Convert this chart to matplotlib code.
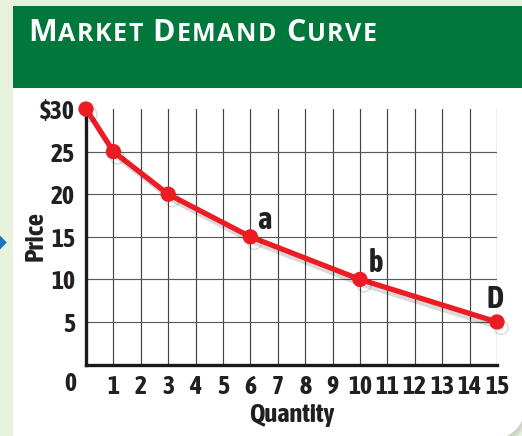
import matplotlib
matplotlib.use('Agg')
import matplotlib.pyplot as plt
import matplotlib.patheffects as pe
from matplotlib.path import Path
from matplotlib.patches import PathPatch, Polygon, Rectangle

# ---- data ----
quantity = [0, 1, 3, 6, 10, 15]
price = [30, 25, 20, 15, 10, 5]
x_ticks = list(range(1, 16))
x_labels = [str(v) for v in x_ticks]
y_ticks = [5, 10, 15, 20, 25, 30]
y_labels = ['5', '10', '15', '20', '25', '$30']
point_labels = ['a', 'b', 'D']
point_label_x = [6.5, 10.58, 14.93]
point_label_y = [15.9, 10.87, 6.64]
title = "Market Demand Curve"

W, H = 522, 436
fig = plt.figure(figsize=(W / 100, H / 100), dpi=100)
BG = '#e8f1dc'
fig.patch.set_facecolor(BG)

def fx(px):
    return px / W

def fy(py):
    return 1 - py / H

def P(px, py):
    return (fx(px), fy(py))

NARROW = ['Asap Condensed', 'Barlow Semi Condensed', 'DejaVu Sans']
TXT = '#231f20'
TICK_FS = 18.5

# ---- panel ----
r = 28
R, B = 524, 438
k = 0.5523
def panel_path(dx=0, dy=0):
    verts = [P(13 + dx, 6 + dy), P(R + dx, 6 + dy), P(R + dx, B - r + dy),
             P(R + dx, B - r + r * k + dy), P(R - r + r * k + dx, B + dy), P(R - r + dx, B + dy),
             P(13 + dx, B + dy), P(13 + dx, 6 + dy)]
    codes = [Path.MOVETO, Path.LINETO, Path.LINETO, Path.CURVE4, Path.CURVE4, Path.CURVE4,
             Path.LINETO, Path.CLOSEPOLY]
    return Path(verts, codes)

for i, a in enumerate([0.08, 0.08, 0.08]):
    fig.patches.append(PathPatch(panel_path(1 + i * 1.5, 1 + i * 1.5), transform=fig.transFigure,
                                 facecolor='#555555', edgecolor='none', alpha=a, zorder=0))
fig.patches.append(PathPatch(panel_path(), transform=fig.transFigure,
                             facecolor='white', edgecolor='none', zorder=1))
fig.patches.append(Rectangle(P(13, 88), fx(530) - fx(13), fy(6) - fy(88), transform=fig.transFigure,
                             facecolor='#00783c', edgecolor='none', zorder=2))
fig.patches.append(Polygon([P(0, 235.5), P(6.8, 242.5), P(0, 249.5), P(-7, 242.5)], closed=True,
                           transform=fig.transFigure, facecolor='#1b75bc', edgecolor='none', zorder=2))

# ---- title in small caps ----
renderer = fig.canvas.get_renderer()
x = 28.0
base = 40.7
track = 1.5
for word in title.split():
    for j, ch in enumerate(word):
        t = fig.text(fx(x), fy(base), ch.upper(), fontsize=22 if j == 0 else 18,
                     fontfamily='Open Sans', fontweight='bold', color='white',
                     ha='left', va='baseline', zorder=3)
        x += t.get_window_extent(renderer).width + track
    x += 8

# ---- axes ----
ax = fig.add_axes([fx(86), fy(364.6), fx(497) - fx(86), (364.6 - 109) / H])
ax.set_zorder(3)
ax.patch.set_alpha(0)
ax.set_xlim(0, 15)
ax.set_ylim(0, 30)

for xv in x_ticks:
    ax.axvline(xv, color='#444444', lw=0.85, zorder=1)
for yv in y_ticks[:-1]:
    ax.axhline(yv, color='#5a5a5a', lw=0.85, zorder=1)

for s in ['top', 'right']:
    ax.spines[s].set_visible(False)
for s in ['left', 'bottom']:
    ax.spines[s].set_linewidth(2.4)
    ax.spines[s].set_color('#1a1a1a')
    ax.spines[s].set_zorder(4)

ax.set_xticks(x_ticks)
ax.set_xticklabels(x_labels)
ax.set_yticks(y_ticks)
ax.set_yticklabels(y_labels)
ax.tick_params(length=0)
ax.tick_params(axis='x', pad=6.5)
ax.tick_params(axis='y', pad=8)
for lab in ax.get_xticklabels() + ax.get_yticklabels():
    lab.set_fontfamily(NARROW)
    lab.set_fontweight('bold')
    lab.set_fontsize(TICK_FS)
    lab.set_color(TXT)

ax.annotate('0', xy=(0, 0), xycoords='data', xytext=(-11.5, -4.8), textcoords='offset points',
            ha='center', va='top', fontfamily=NARROW, fontweight='bold', fontsize=TICK_FS, color=TXT,
            annotation_clip=False)

ax.plot(quantity, price, color='#ec1c24', lw=3.8, marker='o', ms=10, clip_on=False, zorder=5,
        solid_capstyle='round',
        path_effects=[pe.SimpleLineShadow(offset=(3, -4), shadow_color='#000000', alpha=0.15),
                      pe.Normal()])

for lab, lx, ly in zip(point_labels, point_label_x, point_label_y):
    ax.text(lx, ly, lab, ha='center', va='baseline', fontfamily=NARROW, fontweight='bold',
            fontsize=22, color=TXT, zorder=6)

fig.text(fx(35), fy(236), 'Price', rotation=90, ha='center', va='center', fontfamily=NARROW,
         fontweight='bold', fontsize=19.5, color=TXT, zorder=4)
fig.text(fx(292), fy(414), 'Quantity', ha='center', va='center', fontfamily=NARROW,
         fontweight='bold', fontsize=19, color=TXT, zorder=4)

fig.savefig('out.png', dpi=100, facecolor=fig.get_facecolor())
